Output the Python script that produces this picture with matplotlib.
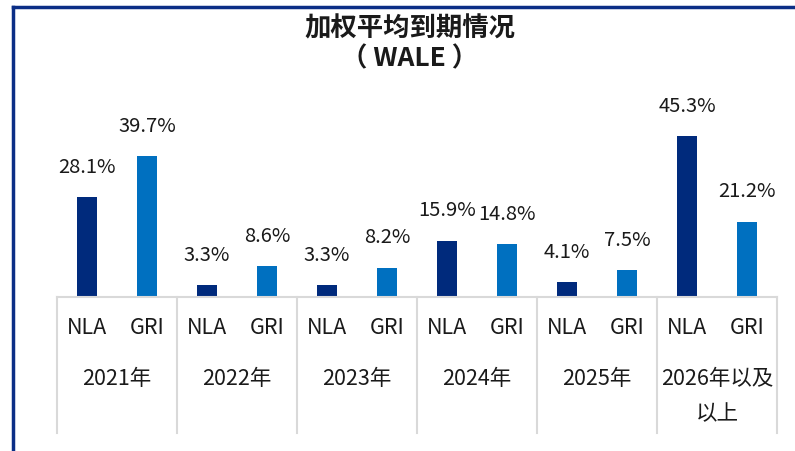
import numpy as np
import matplotlib
matplotlib.use("Agg")
import matplotlib.pyplot as plt
from matplotlib.lines import Line2D

plt.rcParams['font.family'] = ['Noto Sans CJK SC', 'DejaVu Sans']

# data
years = ['2021年', '2022年', '2023年', '2024年', '2025年', '2026年以及']
years_2nd = ['', '', '', '', '', '以上']
nla = [28.1, 3.3, 3.3, 15.9, 4.1, 45.3]
gri = [39.7, 8.6, 8.2, 14.8, 7.5, 21.2]
series_names = ['NLA', 'GRI']

NLA_COLOR = '#002A7C'
GRI_COLOR = '#0070C0'
GRID_COLOR = '#D9D9D9'
TXT = '#1a1a1a'

W, H = 795, 451
fig = plt.figure(figsize=(W / 100, H / 100), dpi=100)
# axes: x from 57 to 777 px, baseline at y=297 px, top at y=100 px
ax = fig.add_axes([57 / W, (H - 297) / H, 720 / W, 197 / H])

x = np.arange(len(years))
bw = 0.16
b1 = ax.bar(x - 0.25, nla, bw, color=NLA_COLOR)
b2 = ax.bar(x + 0.25, gri, bw, color=GRI_COLOR)
for bars, vals in ((b1, nla), (b2, gri)):
    for rect, v in zip(bars, vals):
        ax.annotate(f'{v:.1f}%', (rect.get_x() + rect.get_width() / 2, v),
                    xytext=(0, 30), textcoords='offset pixels',
                    ha='center', va='center', fontsize=14.5, color=TXT)

ax.set_xlim(-0.5, len(years) - 0.5)
ax.set_ylim(0, 197 / 3.55)
for s in ax.spines.values():
    s.set_visible(False)
ax.set_xticks([])
ax.set_yticks([])

# category table below the bars
tr = ax.get_xaxis_transform()
bottom = -(433 - 297) / 197
ax.plot([-0.5, len(years) - 0.5], [0, 0], color=GRID_COLOR, lw=1.5,
        transform=tr, clip_on=False)
for xv in np.arange(len(years) + 1) - 0.5:
    ax.plot([xv, xv], [0, bottom], color=GRID_COLOR, lw=1.5,
            transform=tr, clip_on=False)

for i in range(len(years)):
    for off, name in zip((-0.25, 0.25), series_names):
        ax.annotate(name, (i + off, 0), xycoords=tr, xytext=(0, -31),
                    textcoords='offset pixels', ha='center', va='center',
                    fontsize=15.5, color=TXT)
    ax.annotate(years[i], (i, 0), xycoords=tr, xytext=(0, -82),
                textcoords='offset pixels', ha='center', va='center',
                fontsize=15.5, color=TXT)
    if years_2nd[i]:
        ax.annotate(years_2nd[i], (i, 0), xycoords=tr, xytext=(0, -117),
                    textcoords='offset pixels', ha='center', va='center',
                    fontsize=15.5, color=TXT)

# title
fig.text(410 / W, 1 - 29 / H, '加权平均到期情况', ha='center', va='center',
         fontsize=19, fontweight='bold', color=TXT)
fig.text(410 / W, 1 - 59 / H, '（ WALE ）', ha='center', va='center',
         fontsize=19, fontweight='bold', color=TXT)

# frame lines at top and left
fig.add_artist(Line2D([13 / W, 13 / W], [0, 1 - 7 / H], color='#0B2E86', lw=2.5))
fig.add_artist(Line2D([13 / W, 1], [1 - 7 / H, 1 - 7 / H], color='#0B2E86', lw=2.5))

fig.savefig('out.png', dpi=100)
